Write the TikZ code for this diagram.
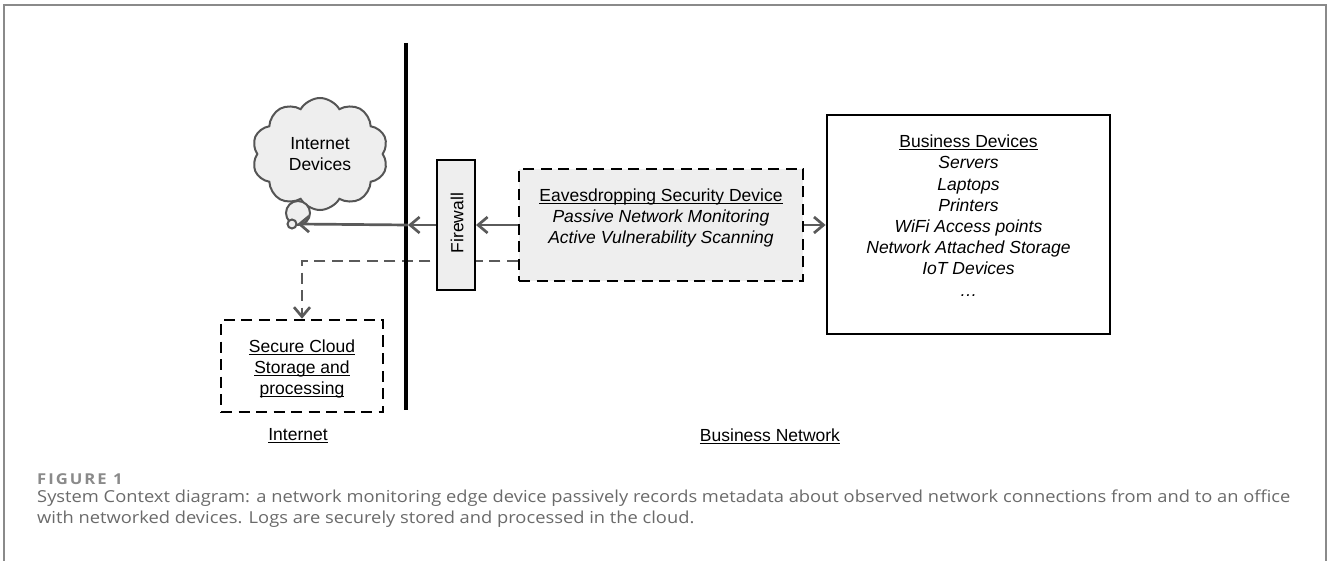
\documentclass[tikz,border=0pt]{standalone}
\usepackage{fontspec}
\setmainfont{Liberation Sans}
\newfontfamily\capfont[FakeStretch=1.11]{Open Sans}
\usetikzlibrary{shapes.symbols,arrows.meta,backgrounds}

% underline set just below the baseline, crossing descenders
\newcommand\ulx[1]{\begingroup\setbox0\hbox{#1}\rlap{\rule[-2.6pt]{\wd0}{1.1pt}}\box0\endgroup}

\definecolor{boxfill}{HTML}{EEEEEE}
\definecolor{conn}{HTML}{5A5A5A}
\definecolor{cloudline}{HTML}{555555}
\definecolor{framec}{HTML}{8A8A8A}
\definecolor{captxt}{HTML}{6A6A6A}

\tikzset{
  dtext/.style={font=\fontsize{17.5}{21.2}\selectfont, align=center, inner sep=0pt},
  dashbox/.style={draw=black, line width=2.5pt, dash pattern=on 11pt off 6.5pt, inner sep=0pt},
  solidbox/.style={draw=black, inner sep=0pt},
  connarrow/.style={draw=conn, line width=2.7pt, -{Straight Barb[length=9.5pt,width=16pt]}},
  dashconn/.style={connarrow, dash pattern=on 11pt off 6.5pt},
  captext/.style={font=\capfont\fontsize{16.5}{21}\selectfont, text=captxt, inner sep=0pt, anchor=base west},
}

\begin{document}
\begin{tikzpicture}[x=1pt,y=-1pt]
\useasboundingbox (0,0) rectangle (1328,561);

% outer frame of the figure panel
\draw[framec, line width=1.5pt] (4,565) -- (4,5) -- (1326,5) -- (1326,565);

% internet side
\node[cloud, cloud puffs=10, cloud puff arc=120, draw=cloudline, fill=boxfill, line width=2pt,
      minimum width=136pt, minimum height=112pt, inner sep=0pt, dtext] (inet) at (320,154)
      {Internet\\Devices};
\node[circle, draw=cloudline, fill=boxfill, line width=2pt, minimum size=24pt, inner sep=0pt] (bubble) at (298,213) {};
\node[circle, draw=cloudline, fill=boxfill, line width=2pt, minimum size=9pt, inner sep=0pt] (tiny) at (292,224) {};

\node[dashbox, minimum width=162pt, minimum height=92pt] (store) at (302,366) {};
\node[dtext, anchor=north] (storetxt) at (302,339.5) {\ulx{Secure Cloud}\\\ulx{Storage and}\\\ulx{processing}};

% firewall and monitoring device
\node[solidbox, fill=boxfill, line width=2pt, minimum width=38pt, minimum height=130pt] (fw) at (456,225) {};
\node[dtext, rotate=90] (fwtxt) at (457,223) {Firewall};

\node[dashbox, fill=boxfill, minimum width=284pt, minimum height=112pt] (eav) at (661,225) {};
\node[dtext, anchor=north] (eavtxt) at (661,188.5)
  {\ulx{Eavesdropping Security Device}\\\textit{Passive Network Monitoring}\\\textit{Active Vulnerability Scanning}};

% business side
\node[solidbox, line width=2.8pt, minimum width=283pt, minimum height=219pt] (biz) at (968.5,224.5) {};
\node[dtext, anchor=north] (biztxt) at (968.5,134.8)
  {\ulx{Business Devices}\\\textit{Servers}\\\textit{Laptops}\\\textit{Printers}\\\textit{WiFi Access points}\\
   \textit{Network Attached Storage}\\\textit{IoT Devices}\\\textit{\dots}};

% network boundary
\coordinate (btop) at (406,43);
\coordinate (bbot) at (406,410);
\coordinate (bmid) at (408,225);

\begin{scope}[on background layer]
  \draw[dashconn] ([yshift=-36pt]eav.west) -| (store.north);
\end{scope}
\draw[line width=4pt, black] (btop) -- (bbot);

\draw[connarrow] (eav.west) -- (eav.west -| fw.east);
\draw[connarrow] (fw.west) -- (bmid);
\draw[connarrow] (bmid) -- (tiny.east);
\draw[connarrow] (eav.east) -- (eav.east -| biz.west);

% zone labels
\node[dtext] (zinet) at (298,436) {\ulx{Internet}};
\node[dtext] (zbiz) at (770,436) {\ulx{Business Network}};

% caption (the figure label is letter-spaced)
\node[captext, font=\capfont\bfseries\fontsize{15}{18}\selectfont, text=framec] (fig) at (37,484)
  {F\kern2pt I\kern2pt G\kern2pt U\kern2pt R\kern2pt E\kern2pt\ 1};
\node[captext] (cap1) at (37,502) {System Context diagram: a network monitoring edge device passively records metadata about observed network connections from and to an office};
\node[captext] (cap2) at (37,523) {with networked devices. Logs are securely stored and processed in the cloud.};
\end{tikzpicture}
\end{document}
